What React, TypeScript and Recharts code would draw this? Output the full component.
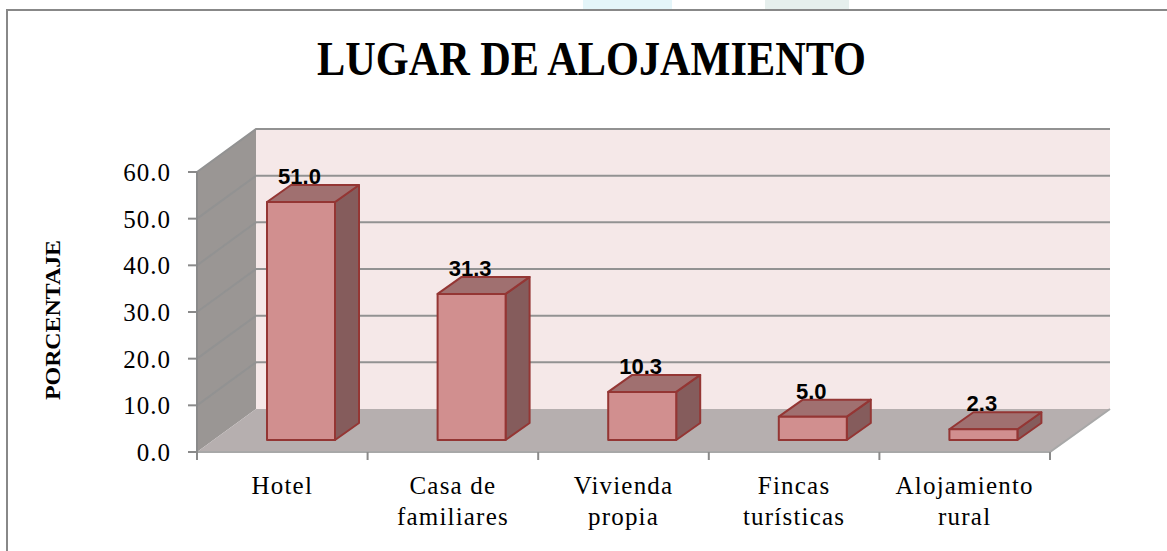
import React from "react";
import { BarChart, Bar, XAxis, YAxis, CartesianGrid, LabelList } from "recharts";

const categories = ["Hotel", "Casa de familiares", "Vivienda propia", "Fincas turísticas", "Alojamiento rural"];
const categoryLines = [["Hotel"], ["Casa de", "familiares"], ["Vivienda", "propia"], ["Fincas", "turísticas"], ["Alojamiento", "rural"]];
const values = [51.0, 31.3, 10.3, 5.0, 2.3];
const yTicks = [0, 10, 20, 30, 40, 50, 60];
const titleText = "LUGAR DE ALOJAMIENTO";
const yTitle = "PORCENTAJE";

const data = categories.map((name, i) => ({ name, value: values[i] }));

const W = 1167, H = 551;
const L = 197, R = 1050, T = 172, B = 452;
const DX = 59, DY = 43; // wall depth
const BDX = 24, BDY = 17; // bar depth
const OX = 19, OY = 12; // bar offset from axis plane
const serif = "'Liberation Serif', serif";
const axisGrey = "#8a8a8a";

function Walls() {
  return (
    <g>
      <polygon points={`${L + DX},${T - DY} ${R + DX + 1},${T - DY} ${R + DX + 1},${B - DY} ${L + DX},${B - DY}`} fill="#f5e8e8" />
      <polygon points={`${L},${T} ${L + DX},${T - DY} ${L + DX},${B - DY} ${L},${B}`} fill="#9a9694" />
      <polygon points={`${L},${B} ${L + DX},${B - DY} ${R + DX + 1},${B - DY} ${R},${B}`} fill="#b6afaf" />
      <polyline points={`${L},${B} ${R},${B} ${R + DX + 1},${B - DY}`} fill="none" stroke="#a8a8a8" strokeWidth={2} />
    </g>
  );
}

function gridLine(p: any) {
  const { x1, x2, y1, index } = p;
  return (
    <g>
      {index === 0 && <Walls />}
      {y1 < B - 1 && (
        <polyline points={`${x1},${y1} ${x1 + DX},${y1 - DY} ${x2 + DX + 1},${y1 - DY}`}
          fill="none" stroke="#929292" strokeWidth={2} />
      )}
    </g>
  );
}

function Bar3D(p: any) {
  const { x, y, width, height } = p;
  const x0 = x + OX, y0 = y - OY, x1 = x0 + width, y1 = y0 + height;
  const stroke = "#943634";
  return (
    <g strokeWidth={2} stroke={stroke} strokeLinejoin="round">
      <polygon points={`${x1},${y0} ${x1 + BDX},${y0 - BDY} ${x1 + BDX},${y1 - BDY} ${x1},${y1}`} fill="#855c5c" />
      <polygon points={`${x0},${y0} ${x0 + BDX},${y0 - BDY} ${x1 + BDX},${y0 - BDY} ${x1},${y0}`} fill="#a07070" />
      <rect x={x0} y={y0} width={width} height={height} fill="#d18f8f" />
    </g>
  );
}

function XTick(p: any) {
  const { x, payload } = p;
  const lines = categoryLines[payload.index] ?? [payload.value];
  const band = (R - L) / categories.length;
  const left = x - band / 2;
  return (
    <g>
      <line x1={left} x2={left} y1={B} y2={B + 8} stroke={axisGrey} strokeWidth={2} />
      {payload.index === categories.length - 1 && (
        <line x1={left + band} x2={left + band} y1={B} y2={B + 8} stroke={axisGrey} strokeWidth={2} />
      )}
      {lines.map((t: string, i: number) => (
        <text key={i} x={x} y={494 + i * 31} textAnchor="middle" fontFamily={serif} fontSize={25} letterSpacing={1.2} fill="#000">{t}</text>
      ))}
    </g>
  );
}

function ValueLabel(p: any) {
  const { x, y, width, value } = p;
  return (
    <text x={x + OX + width / 2 - 1.5} y={y - OY - 18} textAnchor="middle" fontFamily="'Liberation Sans', sans-serif"
      fontWeight="bold" fontSize={22} fill="#000">{Number(value).toFixed(1)}</text>
  );
}

function YTick(p: any) {
  const { y, payload } = p;
  return (
    <text x={171} y={y + 9} textAnchor="end" fontFamily={serif} fontSize={25} letterSpacing={1} fill="#000">{payload.value.toFixed(1)}</text>
  );
}

export default function App() {
  return (
    <div style={{ position: "absolute", left: 0, top: 0, width: W, height: H, overflow: "hidden", background: "#fff" }}>
      <div style={{ position: "absolute", left: 583, top: 0, width: 89, height: 9, background: "#e4f5f9" }} />
      <div style={{ position: "absolute", left: 765, top: 0, width: 84, height: 9, background: "#e6efed" }} />
      <div style={{ position: "absolute", left: 6, top: 9, width: W, height: H, border: "2px solid #888", boxSizing: "border-box" }} />
      <BarChart width={W} height={H} data={data} margin={{ left: 0, right: W - R, top: T, bottom: 0 }}
        style={{ position: "absolute", left: 0, top: 0 }}>
        <CartesianGrid horizontal={gridLine as any} vertical={false} syncWithTicks />
        <XAxis dataKey="name" interval={0} tick={XTick as any} tickLine={false} axisLine={false} height={H - B} />
        <YAxis type="number" domain={[0, 60]} ticks={yTicks} width={L} interval={0} axisLine={{ stroke: axisGrey, strokeWidth: 2 }}
          tickLine={{ stroke: axisGrey, strokeWidth: 2 }} tickSize={9} tick={YTick as any} />
        <Bar dataKey="value" barSize={68} shape={Bar3D as any} isAnimationActive={false}>
          <LabelList dataKey="value" content={ValueLabel as any} />
        </Bar>
        <text x={591.5} y={75} textAnchor="middle" textLength={549} lengthAdjust="spacingAndGlyphs" fontFamily={serif} fontWeight="bold" fontSize={48} fill="#000">{titleText}</text>
        <text transform="translate(60,320) rotate(-90)" textAnchor="middle" textLength={160} lengthAdjust="spacingAndGlyphs" fontFamily={serif} fontWeight="bold" fontSize={21} fill="#000">{yTitle}</text>
      </BarChart>
    </div>
  );
}
